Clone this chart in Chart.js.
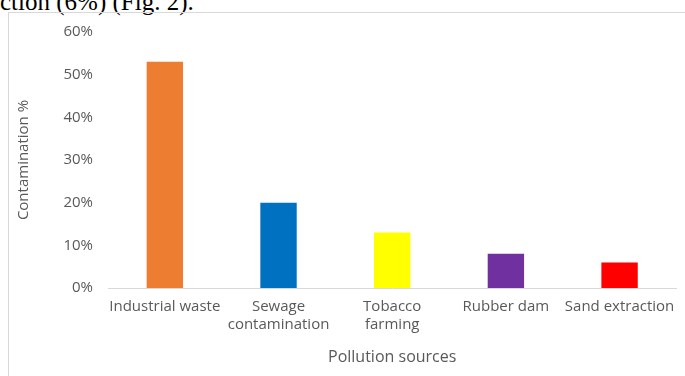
<!DOCTYPE html>
<html>
<head>
<meta charset="utf-8">
<script src="https://cdn.jsdelivr.net/npm/chart.js@4"></script>
<style>
  html, body { margin: 0; padding: 0; background: #fff; }
  body { width: 685px; height: 376px; position: relative; overflow: hidden; }
  #caption { position: absolute; left: 0; top: -12px; font-family: "Liberation Serif", serif; font-size: 25px; color: #000; white-space: nowrap; }
  #frame { position: absolute; left: 8px; top: 12px; width: 700px; height: 400px; border: 1px solid #d9d9d9; }
  #wrap { position: absolute; left: 0; top: 0; width: 685px; height: 376px; }
</style>
</head>
<body>
<div id="caption">ction (6%) (Fig. 2).</div>
<div id="frame"></div>
<div id="wrap"><canvas id="chart"></canvas></div>
<script>
// pollution sources and share of contamination (%)
const categories = ["Industrial waste", ["Sewage", "contamination"], ["Tobacco", "farming"], "Rubber dam", "Sand extraction"];
const contamination = [53, 20, 13, 8, 6];
const barColors = ["#ED7D31", "#0070C0", "#FFFF00", "#7030A0", "#FF0000"];
const yTicks = [0, 10, 20, 30, 40, 50, 60];

const labelFont = { family: "'Open Sans', sans-serif", size: 15 };
const grey = "#595959";

const ctx = document.getElementById("chart").getContext("2d");
new Chart(ctx, {
  type: "bar",
  data: {
    labels: categories,
    datasets: [{
      label: "Contamination %",
      data: contamination,
      backgroundColor: barColors,
      barPercentage: 0.32,
      categoryPercentage: 1
    }]
  },
  options: {
    responsive: true,
    maintainAspectRatio: false,
    animation: false,
    layout: { padding: { left: 0, right: 7, top: 32, bottom: 0 } },
    plugins: { legend: { display: false }, tooltip: { enabled: false } },
    scales: {
      x: {
        afterFit: s => { s.height = 88; },
        grid: { display: false, drawTicks: false },
        border: { display: true, color: "#d9d9d9" },
        ticks: { color: grey, font: labelFont, padding: 10, maxRotation: 0, autoSkip: false },
        title: { display: true, text: "Pollution sources", color: grey, font: { family: "'Open Sans', sans-serif", size: 16 }, padding: { top: 0, bottom: 9 } }
      },
      y: {
        min: 0,
        max: 60,
        afterFit: s => { s.width = 108; },
        afterBuildTicks: s => { s.ticks = yTicks.map(v => ({ value: v })); },
        grid: { display: false, drawTicks: false },
        border: { display: false },
        ticks: { color: grey, font: labelFont, padding: 15, callback: v => v + "%" },
        title: { display: true, text: "Contamination %", color: grey, font: { family: "'Open Sans', sans-serif", size: 15 }, padding: { top: 15, bottom: 0 } }
      }
    }
  }
});
</script>
</body>
</html>
